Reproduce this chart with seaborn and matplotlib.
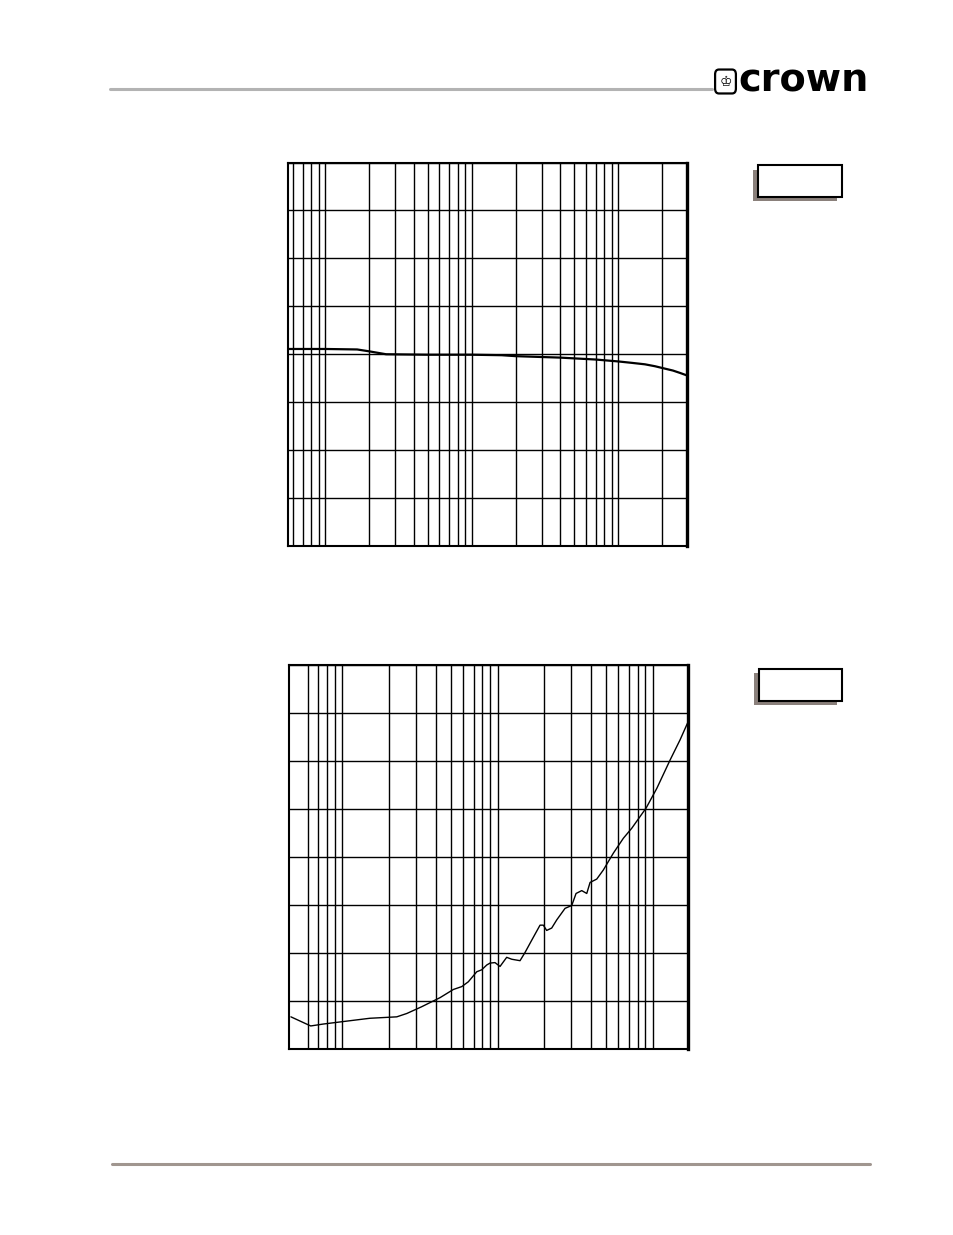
import matplotlib
matplotlib.use("Agg")
import matplotlib.pyplot as plt
import numpy as np
import seaborn as sns
from matplotlib.lines import Line2D
from matplotlib.patches import FancyBboxPatch, Rectangle

sns.set_style("white")
plt.rcParams["font.family"] = ["DejaVu Sans"]

W, H = 954, 1235

# top chart: frequency response (dB, 1 dB per division)
resp_freq = [56, 100, 165, 200, 260, 500, 1000, 1600, 2000, 4000, 7000, 10000,
             12400, 15200, 17800, 20800, 23600, 26400, 29300]
resp_level = [0.11, 0.11, 0.10, 0.06, 0.0, -0.01, -0.01, -0.02, -0.04, -0.07,
              -0.11, -0.15, -0.18, -0.21, -0.25, -0.30, -0.34, -0.39, -0.44]
resp_ticks = [60, 70, 80, 90, 100, 200, 300, 400, 500, 600, 700, 800, 900,
              1000, 2000, 3000, 4000, 5000, 6000, 7000, 8000, 9000, 10000, 20000]
resp_xlim = (55.9, 29300)
resp_ylim = (-4, 4)

# bottom chart: rising curve, 1 unit per division
imp_freq = [46.5, 62.4, 75.2, 106, 150, 224, 260, 324, 426, 519, 588, 648, 735,
            791, 852, 895, 963, 1038, 1146, 1235, 1397, 1504, 1664, 1880, 1974,
            2075, 2236, 2410, 2726, 3011, 3210, 3493, 3763, 3953, 4365, 4815,
            5585, 6479, 7345, 9085, 10650, 12970, 15040, 16860]
imp_level = [0.67, 0.48, 0.52, 0.58, 0.64, 0.67, 0.74, 0.88, 1.07, 1.24, 1.30,
             1.40, 1.61, 1.65, 1.75, 1.79, 1.80, 1.72, 1.91, 1.87, 1.84, 2.01,
             2.27, 2.58, 2.58, 2.47, 2.52, 2.69, 2.93, 2.99, 3.24, 3.30, 3.24,
             3.47, 3.54, 3.73, 4.08, 4.39, 4.60, 5.02, 5.43, 6.02, 6.44, 6.80]
imp_ticks = [60, 70, 80, 90, 100, 200, 300, 400, 500, 600, 700, 800, 900,
             1000, 2000, 3000, 4000, 5000, 6000, 7000, 8000, 9000, 10000]
imp_xlim = (45.4, 17000)
imp_ylim = (0, 8)


def fig_rect(x0, y0, x1, y1):
    return [x0 / W, 1 - y1 / H, (x1 - x0) / W, (y1 - y0) / H]


def grid_chart(ax, freq, level, ticks, xlim, ylim, lw):
    sns.lineplot(x=freq, y=level, ax=ax, color="black", linewidth=lw, sort=False)
    ax.set_xscale("log")
    ax.set(xlim=xlim, ylim=ylim, xlabel="", ylabel="")
    ax.set_xticks(ticks)
    ax.set_xticks([], minor=True)
    ax.set_yticks(np.arange(ylim[0], ylim[1] + 1, 1))
    ax.tick_params(length=0, labelbottom=False, labelleft=False)
    ax.grid(True, color="black", linewidth=1.0)
    for sp in ax.spines.values():
        sp.set_visible(True)
        sp.set_color("black")
        sp.set_linewidth(1.5)
    ax.spines["right"].set_linewidth(2.4)


fig = plt.figure(figsize=(W / 100, H / 100), dpi=100, facecolor="white")

ax_top = fig.add_axes(fig_rect(288.3, 162.5, 686.7, 546))
grid_chart(ax_top, resp_freq, resp_level, resp_ticks, resp_xlim, resp_ylim, 1.6)

ax_bot = fig.add_axes(fig_rect(289.3, 665, 688.3, 1049))
grid_chart(ax_bot, imp_freq, imp_level, imp_ticks, imp_xlim, imp_ylim, 1.0)

# header / footer rules
fig.add_artist(Line2D([110 / W, 712 / W], [1 - 89 / H] * 2, color="#b3b3b3", lw=2.2))
fig.add_artist(Line2D([112 / W, 870 / W], [1 - 1164 / H] * 2, color="#a0968f", lw=2.2))

# logo
r = fig_rect(717, 72, 734, 91)
fig.add_artist(FancyBboxPatch((r[0], r[1]), r[2], r[3], boxstyle="round,pad=0.002,rounding_size=0.004",
                              transform=fig.transFigure, facecolor="white", edgecolor="black", lw=1.6))
fig.text((r[0] + r[2] / 2), r[1] + r[3] / 2, "\u2654", ha="center", va="center", fontsize=10,
         color="black")
fig.text(738 / W, 1 - 91 / H, "crown", ha="left", va="baseline", fontsize=27.5,
         fontweight="bold", color="black")

# label boxes with drop shadow
for (bx0, by0, bx1, by1), (sx0, sy0, sx1, sy1) in [
    ((758.3, 165, 841.7, 196.7), (752.7, 170, 836.7, 201)),
    ((759.3, 669.3, 842.3, 700.7), (754, 673.3, 836.7, 705)),
]:
    s = fig_rect(sx0, sy0, sx1, sy1)
    fig.add_artist(Rectangle((s[0], s[1]), s[2], s[3], transform=fig.transFigure,
                             facecolor="#8a807b", edgecolor="none"))
    b = fig_rect(bx0, by0, bx1, by1)
    fig.add_artist(Rectangle((b[0], b[1]), b[2], b[3], transform=fig.transFigure,
                             facecolor="white", edgecolor="black", lw=1.5))

fig.savefig("out.png", dpi=100, facecolor="white")
